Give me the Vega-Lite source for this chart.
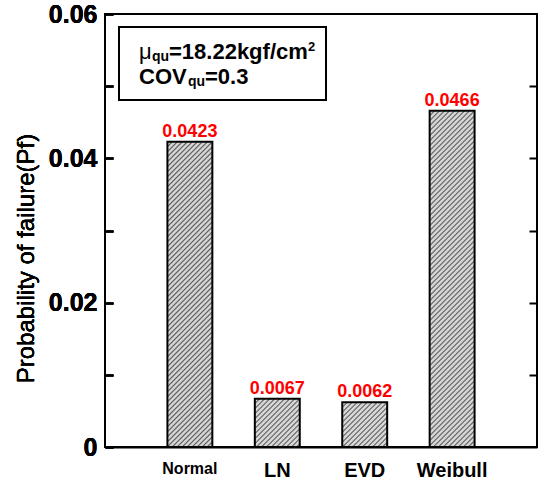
{
 "$schema": "https://vega.github.io/schema/vega-lite/v6.json",
 "width": 432, "height": 433,
 "autosize": "none",
 "padding": {"left": 105, "top": 14, "right": 2, "bottom": 34},
 "background": "white",
 "config": {
  "font": "Liberation Sans",
  "view": {"stroke": "black", "strokeWidth": 2},
  "axis": {"grid": false, "domainColor": "black", "domainWidth": 2, "tickColor": "black", "tickWidth": 2, "labelColor": "black", "titleColor": "black", "labelFont": "Liberation Sans", "titleFont": "Liberation Sans"}
 },
 "data": {"values": [
  {"model": "Normal", "pf": 0.0423, "label": "0.0423"},
  {"model": "LN", "pf": 0.0067, "label": "0.0067"},
  {"model": "EVD", "pf": 0.0062, "label": "0.0062"},
  {"model": "Weibull", "pf": 0.0466, "label": "0.0466"}
 ]},
 "resolve": {"scale": {"x": "independent"}},
 "layer": [
  {
   "encoding": {
    "x": {"field": "model", "type": "nominal", "sort": ["Normal", "LN", "EVD", "Weibull"],
          "scale": {"paddingInner": 0.486, "paddingOuter": 0.714},
          "axis": {"title": null, "labelAngle": 0, "ticks": false, "labelPadding": 13, "labelFontWeight": "bold",
                   "labelFontSize": {"condition": {"test": "datum.value == 'Normal'", "value": 16}, "value": 20}}},
    "y": {"field": "pf", "type": "quantitative", "scale": {"domain": [0, 0.06], "nice": false, "zero": true},
          "axis": {"orient": "left", "title": "Probability of failure(Pf)", "values": [0, 0.01, 0.02, 0.03, 0.04, 0.05, 0.06],
                   "labelExpr": "datum.value == 0 ? '0' : (round(datum.value*100) % 2 == 0 ? format(datum.value, '.2f') : '')",
                   "labelOverlap": false, "labelFontSize": 25, "labelFontWeight": "bold", "offset": -8, "tickSize": 8, "domain": false, "labelPadding": 8,
                   "titleFontSize": 24, "titleFontWeight": "normal", "titlePadding": 10, "titleY": 244}}
   },
   "layer": [
    {"transform": [{"filter": "datum.model == 'Normal'"}],
     "mark": {"type": "bar", "stroke": "black", "strokeWidth": 2,
      "fill": {"gradient": "linear", "x1": 0, "y1": 0, "x2": 0.18878, "y2": 1.28258, "stops": [
{"offset":0,"color":"#555"},{"offset":0.00375,"color":"#d6d6d6"},{"offset":0.00875,"color":"#d6d6d6"},
{"offset":0.0125,"color":"#555"},{"offset":0.01625,"color":"#d6d6d6"},{"offset":0.02125,"color":"#d6d6d6"},
{"offset":0.025,"color":"#555"},{"offset":0.02875,"color":"#d6d6d6"},{"offset":0.03375,"color":"#d6d6d6"},
{"offset":0.0375,"color":"#555"},{"offset":0.04125,"color":"#d6d6d6"},{"offset":0.04625,"color":"#d6d6d6"},
{"offset":0.05,"color":"#555"},{"offset":0.05375,"color":"#d6d6d6"},{"offset":0.05875,"color":"#d6d6d6"},
{"offset":0.0625,"color":"#555"},{"offset":0.06625,"color":"#d6d6d6"},{"offset":0.07125,"color":"#d6d6d6"},
{"offset":0.075,"color":"#555"},{"offset":0.07875,"color":"#d6d6d6"},{"offset":0.08375,"color":"#d6d6d6"},
{"offset":0.0875,"color":"#555"},{"offset":0.09125,"color":"#d6d6d6"},{"offset":0.09625,"color":"#d6d6d6"},
{"offset":0.1,"color":"#555"},{"offset":0.10375,"color":"#d6d6d6"},{"offset":0.10875,"color":"#d6d6d6"},
{"offset":0.1125,"color":"#555"},{"offset":0.11625,"color":"#d6d6d6"},{"offset":0.12125,"color":"#d6d6d6"},
{"offset":0.125,"color":"#555"},{"offset":0.12875,"color":"#d6d6d6"},{"offset":0.13375,"color":"#d6d6d6"},
{"offset":0.1375,"color":"#555"},{"offset":0.14125,"color":"#d6d6d6"},{"offset":0.14625,"color":"#d6d6d6"},
{"offset":0.15,"color":"#555"},{"offset":0.15375,"color":"#d6d6d6"},{"offset":0.15875,"color":"#d6d6d6"},
{"offset":0.1625,"color":"#555"},{"offset":0.16625,"color":"#d6d6d6"},{"offset":0.17125,"color":"#d6d6d6"},
{"offset":0.175,"color":"#555"},{"offset":0.17875,"color":"#d6d6d6"},{"offset":0.18375,"color":"#d6d6d6"},
{"offset":0.1875,"color":"#555"},{"offset":0.19125,"color":"#d6d6d6"},{"offset":0.19625,"color":"#d6d6d6"},
{"offset":0.2,"color":"#555"},{"offset":0.20375,"color":"#d6d6d6"},{"offset":0.20875,"color":"#d6d6d6"},
{"offset":0.2125,"color":"#555"},{"offset":0.21625,"color":"#d6d6d6"},{"offset":0.22125,"color":"#d6d6d6"},
{"offset":0.225,"color":"#555"},{"offset":0.22875,"color":"#d6d6d6"},{"offset":0.23375,"color":"#d6d6d6"},
{"offset":0.2375,"color":"#555"},{"offset":0.24125,"color":"#d6d6d6"},{"offset":0.24625,"color":"#d6d6d6"},
{"offset":0.25,"color":"#555"},{"offset":0.25375,"color":"#d6d6d6"},{"offset":0.25875,"color":"#d6d6d6"},
{"offset":0.2625,"color":"#555"},{"offset":0.26625,"color":"#d6d6d6"},{"offset":0.27125,"color":"#d6d6d6"},
{"offset":0.275,"color":"#555"},{"offset":0.27875,"color":"#d6d6d6"},{"offset":0.28375,"color":"#d6d6d6"},
{"offset":0.2875,"color":"#555"},{"offset":0.29125,"color":"#d6d6d6"},{"offset":0.29625,"color":"#d6d6d6"},
{"offset":0.3,"color":"#555"},{"offset":0.30375,"color":"#d6d6d6"},{"offset":0.30875,"color":"#d6d6d6"},
{"offset":0.3125,"color":"#555"},{"offset":0.31625,"color":"#d6d6d6"},{"offset":0.32125,"color":"#d6d6d6"},
{"offset":0.325,"color":"#555"},{"offset":0.32875,"color":"#d6d6d6"},{"offset":0.33375,"color":"#d6d6d6"},
{"offset":0.3375,"color":"#555"},{"offset":0.34125,"color":"#d6d6d6"},{"offset":0.34625,"color":"#d6d6d6"},
{"offset":0.35,"color":"#555"},{"offset":0.35375,"color":"#d6d6d6"},{"offset":0.35875,"color":"#d6d6d6"},
{"offset":0.3625,"color":"#555"},{"offset":0.36625,"color":"#d6d6d6"},{"offset":0.37125,"color":"#d6d6d6"},
{"offset":0.375,"color":"#555"},{"offset":0.37875,"color":"#d6d6d6"},{"offset":0.38375,"color":"#d6d6d6"},
{"offset":0.3875,"color":"#555"},{"offset":0.39125,"color":"#d6d6d6"},{"offset":0.39625,"color":"#d6d6d6"},
{"offset":0.4,"color":"#555"},{"offset":0.40375,"color":"#d6d6d6"},{"offset":0.40875,"color":"#d6d6d6"},
{"offset":0.4125,"color":"#555"},{"offset":0.41625,"color":"#d6d6d6"},{"offset":0.42125,"color":"#d6d6d6"},
{"offset":0.425,"color":"#555"},{"offset":0.42875,"color":"#d6d6d6"},{"offset":0.43375,"color":"#d6d6d6"},
{"offset":0.4375,"color":"#555"},{"offset":0.44125,"color":"#d6d6d6"},{"offset":0.44625,"color":"#d6d6d6"},
{"offset":0.45,"color":"#555"},{"offset":0.45375,"color":"#d6d6d6"},{"offset":0.45875,"color":"#d6d6d6"},
{"offset":0.4625,"color":"#555"},{"offset":0.46625,"color":"#d6d6d6"},{"offset":0.47125,"color":"#d6d6d6"},
{"offset":0.475,"color":"#555"},{"offset":0.47875,"color":"#d6d6d6"},{"offset":0.48375,"color":"#d6d6d6"},
{"offset":0.4875,"color":"#555"},{"offset":0.49125,"color":"#d6d6d6"},{"offset":0.49625,"color":"#d6d6d6"},
{"offset":0.5,"color":"#555"},{"offset":0.50375,"color":"#d6d6d6"},{"offset":0.50875,"color":"#d6d6d6"},
{"offset":0.5125,"color":"#555"},{"offset":0.51625,"color":"#d6d6d6"},{"offset":0.52125,"color":"#d6d6d6"},
{"offset":0.525,"color":"#555"},{"offset":0.52875,"color":"#d6d6d6"},{"offset":0.53375,"color":"#d6d6d6"},
{"offset":0.5375,"color":"#555"},{"offset":0.54125,"color":"#d6d6d6"},{"offset":0.54625,"color":"#d6d6d6"},
{"offset":0.55,"color":"#555"},{"offset":0.55375,"color":"#d6d6d6"},{"offset":0.55875,"color":"#d6d6d6"},
{"offset":0.5625,"color":"#555"},{"offset":0.56625,"color":"#d6d6d6"},{"offset":0.57125,"color":"#d6d6d6"},
{"offset":0.575,"color":"#555"},{"offset":0.57875,"color":"#d6d6d6"},{"offset":0.58375,"color":"#d6d6d6"},
{"offset":0.5875,"color":"#555"},{"offset":0.59125,"color":"#d6d6d6"},{"offset":0.59625,"color":"#d6d6d6"},
{"offset":0.6,"color":"#555"},{"offset":0.60375,"color":"#d6d6d6"},{"offset":0.60875,"color":"#d6d6d6"},
{"offset":0.6125,"color":"#555"},{"offset":0.61625,"color":"#d6d6d6"},{"offset":0.62125,"color":"#d6d6d6"},
{"offset":0.625,"color":"#555"},{"offset":0.62875,"color":"#d6d6d6"},{"offset":0.63375,"color":"#d6d6d6"},
{"offset":0.6375,"color":"#555"},{"offset":0.64125,"color":"#d6d6d6"},{"offset":0.64625,"color":"#d6d6d6"},
{"offset":0.65,"color":"#555"},{"offset":0.65375,"color":"#d6d6d6"},{"offset":0.65875,"color":"#d6d6d6"},
{"offset":0.6625,"color":"#555"},{"offset":0.66625,"color":"#d6d6d6"},{"offset":0.67125,"color":"#d6d6d6"},
{"offset":0.675,"color":"#555"},{"offset":0.67875,"color":"#d6d6d6"},{"offset":0.68375,"color":"#d6d6d6"},
{"offset":0.6875,"color":"#555"},{"offset":0.69125,"color":"#d6d6d6"},{"offset":0.69625,"color":"#d6d6d6"},
{"offset":0.7,"color":"#555"},{"offset":0.70375,"color":"#d6d6d6"},{"offset":0.70875,"color":"#d6d6d6"},
{"offset":0.7125,"color":"#555"},{"offset":0.71625,"color":"#d6d6d6"},{"offset":0.72125,"color":"#d6d6d6"},
{"offset":0.725,"color":"#555"},{"offset":0.72875,"color":"#d6d6d6"},{"offset":0.73375,"color":"#d6d6d6"},
{"offset":0.7375,"color":"#555"},{"offset":0.74125,"color":"#d6d6d6"},{"offset":0.74625,"color":"#d6d6d6"},
{"offset":0.75,"color":"#555"},{"offset":0.75375,"color":"#d6d6d6"},{"offset":0.75875,"color":"#d6d6d6"},
{"offset":0.7625,"color":"#555"},{"offset":0.76625,"color":"#d6d6d6"},{"offset":0.77125,"color":"#d6d6d6"},
{"offset":0.775,"color":"#555"},{"offset":0.77875,"color":"#d6d6d6"},{"offset":0.78375,"color":"#d6d6d6"},
{"offset":0.7875,"color":"#555"},{"offset":0.79125,"color":"#d6d6d6"},{"offset":0.79625,"color":"#d6d6d6"},
{"offset":0.8,"color":"#555"},{"offset":0.80375,"color":"#d6d6d6"},{"offset":0.80875,"color":"#d6d6d6"},
{"offset":0.8125,"color":"#555"},{"offset":0.81625,"color":"#d6d6d6"},{"offset":0.82125,"color":"#d6d6d6"},
{"offset":0.825,"color":"#555"},{"offset":0.82875,"color":"#d6d6d6"},{"offset":0.83375,"color":"#d6d6d6"},
{"offset":0.8375,"color":"#555"},{"offset":0.84125,"color":"#d6d6d6"},{"offset":0.84625,"color":"#d6d6d6"},
{"offset":0.85,"color":"#555"},{"offset":0.85375,"color":"#d6d6d6"},{"offset":0.85875,"color":"#d6d6d6"},
{"offset":0.8625,"color":"#555"},{"offset":0.86625,"color":"#d6d6d6"},{"offset":0.87125,"color":"#d6d6d6"},
{"offset":0.875,"color":"#555"},{"offset":0.87875,"color":"#d6d6d6"},{"offset":0.88375,"color":"#d6d6d6"},
{"offset":0.8875,"color":"#555"},{"offset":0.89125,"color":"#d6d6d6"},{"offset":0.89625,"color":"#d6d6d6"},
{"offset":0.9,"color":"#555"}]}}},
    {"transform": [{"filter": "datum.model == 'Weibull'"}],
     "mark": {"type": "bar", "stroke": "black", "strokeWidth": 2,
      "fill": {"gradient": "linear", "x1": 0, "y1": 0, "x2": 0.15612, "y2": 1.16855, "stops": [
{"offset":0,"color":"#555"},{"offset":0.00375,"color":"#d6d6d6"},{"offset":0.00875,"color":"#d6d6d6"},
{"offset":0.0125,"color":"#555"},{"offset":0.01625,"color":"#d6d6d6"},{"offset":0.02125,"color":"#d6d6d6"},
{"offset":0.025,"color":"#555"},{"offset":0.02875,"color":"#d6d6d6"},{"offset":0.03375,"color":"#d6d6d6"},
{"offset":0.0375,"color":"#555"},{"offset":0.04125,"color":"#d6d6d6"},{"offset":0.04625,"color":"#d6d6d6"},
{"offset":0.05,"color":"#555"},{"offset":0.05375,"color":"#d6d6d6"},{"offset":0.05875,"color":"#d6d6d6"},
{"offset":0.0625,"color":"#555"},{"offset":0.06625,"color":"#d6d6d6"},{"offset":0.07125,"color":"#d6d6d6"},
{"offset":0.075,"color":"#555"},{"offset":0.07875,"color":"#d6d6d6"},{"offset":0.08375,"color":"#d6d6d6"},
{"offset":0.0875,"color":"#555"},{"offset":0.09125,"color":"#d6d6d6"},{"offset":0.09625,"color":"#d6d6d6"},
{"offset":0.1,"color":"#555"},{"offset":0.10375,"color":"#d6d6d6"},{"offset":0.10875,"color":"#d6d6d6"},
{"offset":0.1125,"color":"#555"},{"offset":0.11625,"color":"#d6d6d6"},{"offset":0.12125,"color":"#d6d6d6"},
{"offset":0.125,"color":"#555"},{"offset":0.12875,"color":"#d6d6d6"},{"offset":0.13375,"color":"#d6d6d6"},
{"offset":0.1375,"color":"#555"},{"offset":0.14125,"color":"#d6d6d6"},{"offset":0.14625,"color":"#d6d6d6"},
{"offset":0.15,"color":"#555"},{"offset":0.15375,"color":"#d6d6d6"},{"offset":0.15875,"color":"#d6d6d6"},
{"offset":0.1625,"color":"#555"},{"offset":0.16625,"color":"#d6d6d6"},{"offset":0.17125,"color":"#d6d6d6"},
{"offset":0.175,"color":"#555"},{"offset":0.17875,"color":"#d6d6d6"},{"offset":0.18375,"color":"#d6d6d6"},
{"offset":0.1875,"color":"#555"},{"offset":0.19125,"color":"#d6d6d6"},{"offset":0.19625,"color":"#d6d6d6"},
{"offset":0.2,"color":"#555"},{"offset":0.20375,"color":"#d6d6d6"},{"offset":0.20875,"color":"#d6d6d6"},
{"offset":0.2125,"color":"#555"},{"offset":0.21625,"color":"#d6d6d6"},{"offset":0.22125,"color":"#d6d6d6"},
{"offset":0.225,"color":"#555"},{"offset":0.22875,"color":"#d6d6d6"},{"offset":0.23375,"color":"#d6d6d6"},
{"offset":0.2375,"color":"#555"},{"offset":0.24125,"color":"#d6d6d6"},{"offset":0.24625,"color":"#d6d6d6"},
{"offset":0.25,"color":"#555"},{"offset":0.25375,"color":"#d6d6d6"},{"offset":0.25875,"color":"#d6d6d6"},
{"offset":0.2625,"color":"#555"},{"offset":0.26625,"color":"#d6d6d6"},{"offset":0.27125,"color":"#d6d6d6"},
{"offset":0.275,"color":"#555"},{"offset":0.27875,"color":"#d6d6d6"},{"offset":0.28375,"color":"#d6d6d6"},
{"offset":0.2875,"color":"#555"},{"offset":0.29125,"color":"#d6d6d6"},{"offset":0.29625,"color":"#d6d6d6"},
{"offset":0.3,"color":"#555"},{"offset":0.30375,"color":"#d6d6d6"},{"offset":0.30875,"color":"#d6d6d6"},
{"offset":0.3125,"color":"#555"},{"offset":0.31625,"color":"#d6d6d6"},{"offset":0.32125,"color":"#d6d6d6"},
{"offset":0.325,"color":"#555"},{"offset":0.32875,"color":"#d6d6d6"},{"offset":0.33375,"color":"#d6d6d6"},
{"offset":0.3375,"color":"#555"},{"offset":0.34125,"color":"#d6d6d6"},{"offset":0.34625,"color":"#d6d6d6"},
{"offset":0.35,"color":"#555"},{"offset":0.35375,"color":"#d6d6d6"},{"offset":0.35875,"color":"#d6d6d6"},
{"offset":0.3625,"color":"#555"},{"offset":0.36625,"color":"#d6d6d6"},{"offset":0.37125,"color":"#d6d6d6"},
{"offset":0.375,"color":"#555"},{"offset":0.37875,"color":"#d6d6d6"},{"offset":0.38375,"color":"#d6d6d6"},
{"offset":0.3875,"color":"#555"},{"offset":0.39125,"color":"#d6d6d6"},{"offset":0.39625,"color":"#d6d6d6"},
{"offset":0.4,"color":"#555"},{"offset":0.40375,"color":"#d6d6d6"},{"offset":0.40875,"color":"#d6d6d6"},
{"offset":0.4125,"color":"#555"},{"offset":0.41625,"color":"#d6d6d6"},{"offset":0.42125,"color":"#d6d6d6"},
{"offset":0.425,"color":"#555"},{"offset":0.42875,"color":"#d6d6d6"},{"offset":0.43375,"color":"#d6d6d6"},
{"offset":0.4375,"color":"#555"},{"offset":0.44125,"color":"#d6d6d6"},{"offset":0.44625,"color":"#d6d6d6"},
{"offset":0.45,"color":"#555"},{"offset":0.45375,"color":"#d6d6d6"},{"offset":0.45875,"color":"#d6d6d6"},
{"offset":0.4625,"color":"#555"},{"offset":0.46625,"color":"#d6d6d6"},{"offset":0.47125,"color":"#d6d6d6"},
{"offset":0.475,"color":"#555"},{"offset":0.47875,"color":"#d6d6d6"},{"offset":0.48375,"color":"#d6d6d6"},
{"offset":0.4875,"color":"#555"},{"offset":0.49125,"color":"#d6d6d6"},{"offset":0.49625,"color":"#d6d6d6"},
{"offset":0.5,"color":"#555"},{"offset":0.50375,"color":"#d6d6d6"},{"offset":0.50875,"color":"#d6d6d6"},
{"offset":0.5125,"color":"#555"},{"offset":0.51625,"color":"#d6d6d6"},{"offset":0.52125,"color":"#d6d6d6"},
{"offset":0.525,"color":"#555"},{"offset":0.52875,"color":"#d6d6d6"},{"offset":0.53375,"color":"#d6d6d6"},
{"offset":0.5375,"color":"#555"},{"offset":0.54125,"color":"#d6d6d6"},{"offset":0.54625,"color":"#d6d6d6"},
{"offset":0.55,"color":"#555"},{"offset":0.55375,"color":"#d6d6d6"},{"offset":0.55875,"color":"#d6d6d6"},
{"offset":0.5625,"color":"#555"},{"offset":0.56625,"color":"#d6d6d6"},{"offset":0.57125,"color":"#d6d6d6"},
{"offset":0.575,"color":"#555"},{"offset":0.57875,"color":"#d6d6d6"},{"offset":0.58375,"color":"#d6d6d6"},
{"offset":0.5875,"color":"#555"},{"offset":0.59125,"color":"#d6d6d6"},{"offset":0.59625,"color":"#d6d6d6"},
{"offset":0.6,"color":"#555"},{"offset":0.60375,"color":"#d6d6d6"},{"offset":0.60875,"color":"#d6d6d6"},
{"offset":0.6125,"color":"#555"},{"offset":0.61625,"color":"#d6d6d6"},{"offset":0.62125,"color":"#d6d6d6"},
{"offset":0.625,"color":"#555"},{"offset":0.62875,"color":"#d6d6d6"},{"offset":0.63375,"color":"#d6d6d6"},
{"offset":0.6375,"color":"#555"},{"offset":0.64125,"color":"#d6d6d6"},{"offset":0.64625,"color":"#d6d6d6"},
{"offset":0.65,"color":"#555"},{"offset":0.65375,"color":"#d6d6d6"},{"offset":0.65875,"color":"#d6d6d6"},
{"offset":0.6625,"color":"#555"},{"offset":0.66625,"color":"#d6d6d6"},{"offset":0.67125,"color":"#d6d6d6"},
{"offset":0.675,"color":"#555"},{"offset":0.67875,"color":"#d6d6d6"},{"offset":0.68375,"color":"#d6d6d6"},
{"offset":0.6875,"color":"#555"},{"offset":0.69125,"color":"#d6d6d6"},{"offset":0.69625,"color":"#d6d6d6"},
{"offset":0.7,"color":"#555"},{"offset":0.70375,"color":"#d6d6d6"},{"offset":0.70875,"color":"#d6d6d6"},
{"offset":0.7125,"color":"#555"},{"offset":0.71625,"color":"#d6d6d6"},{"offset":0.72125,"color":"#d6d6d6"},
{"offset":0.725,"color":"#555"},{"offset":0.72875,"color":"#d6d6d6"},{"offset":0.73375,"color":"#d6d6d6"},
{"offset":0.7375,"color":"#555"},{"offset":0.74125,"color":"#d6d6d6"},{"offset":0.74625,"color":"#d6d6d6"},
{"offset":0.75,"color":"#555"},{"offset":0.75375,"color":"#d6d6d6"},{"offset":0.75875,"color":"#d6d6d6"},
{"offset":0.7625,"color":"#555"},{"offset":0.76625,"color":"#d6d6d6"},{"offset":0.77125,"color":"#d6d6d6"},
{"offset":0.775,"color":"#555"},{"offset":0.77875,"color":"#d6d6d6"},{"offset":0.78375,"color":"#d6d6d6"},
{"offset":0.7875,"color":"#555"},{"offset":0.79125,"color":"#d6d6d6"},{"offset":0.79625,"color":"#d6d6d6"},
{"offset":0.8,"color":"#555"},{"offset":0.80375,"color":"#d6d6d6"},{"offset":0.80875,"color":"#d6d6d6"},
{"offset":0.8125,"color":"#555"},{"offset":0.81625,"color":"#d6d6d6"},{"offset":0.82125,"color":"#d6d6d6"},
{"offset":0.825,"color":"#555"},{"offset":0.82875,"color":"#d6d6d6"},{"offset":0.83375,"color":"#d6d6d6"},
{"offset":0.8375,"color":"#555"},{"offset":0.84125,"color":"#d6d6d6"},{"offset":0.84625,"color":"#d6d6d6"},
{"offset":0.85,"color":"#555"},{"offset":0.85375,"color":"#d6d6d6"},{"offset":0.85875,"color":"#d6d6d6"},
{"offset":0.8625,"color":"#555"},{"offset":0.86625,"color":"#d6d6d6"},{"offset":0.87125,"color":"#d6d6d6"},
{"offset":0.875,"color":"#555"},{"offset":0.87875,"color":"#d6d6d6"},{"offset":0.88375,"color":"#d6d6d6"},
{"offset":0.8875,"color":"#555"},{"offset":0.89125,"color":"#d6d6d6"},{"offset":0.89625,"color":"#d6d6d6"},
{"offset":0.9,"color":"#555"},{"offset":0.90375,"color":"#d6d6d6"},{"offset":0.90875,"color":"#d6d6d6"},
{"offset":0.9125,"color":"#555"},{"offset":0.91625,"color":"#d6d6d6"},{"offset":0.92125,"color":"#d6d6d6"},
{"offset":0.925,"color":"#555"},{"offset":0.92875,"color":"#d6d6d6"},{"offset":0.93375,"color":"#d6d6d6"},
{"offset":0.9375,"color":"#555"},{"offset":0.94125,"color":"#d6d6d6"},{"offset":0.94625,"color":"#d6d6d6"},
{"offset":0.95,"color":"#555"},{"offset":0.95375,"color":"#d6d6d6"},{"offset":0.95875,"color":"#d6d6d6"},
{"offset":0.9625,"color":"#555"},{"offset":0.96625,"color":"#d6d6d6"},{"offset":0.97125,"color":"#d6d6d6"},
{"offset":0.975,"color":"#555"}]}}},
    {"transform": [{"filter": "datum.model == 'LN'"}],
     "mark": {"type": "bar", "stroke": "black", "strokeWidth": 2,
      "fill": {"gradient": "linear", "x1": 0, "y1": 0, "x2": 1.03132, "y2": 1.10982, "stops": [
{"offset":0,"color":"#555"},{"offset":0.015,"color":"#d6d6d6"},{"offset":0.035,"color":"#d6d6d6"},
{"offset":0.05,"color":"#555"},{"offset":0.065,"color":"#d6d6d6"},{"offset":0.085,"color":"#d6d6d6"},
{"offset":0.1,"color":"#555"},{"offset":0.115,"color":"#d6d6d6"},{"offset":0.135,"color":"#d6d6d6"},
{"offset":0.15,"color":"#555"},{"offset":0.165,"color":"#d6d6d6"},{"offset":0.185,"color":"#d6d6d6"},
{"offset":0.2,"color":"#555"},{"offset":0.215,"color":"#d6d6d6"},{"offset":0.235,"color":"#d6d6d6"},
{"offset":0.25,"color":"#555"},{"offset":0.265,"color":"#d6d6d6"},{"offset":0.285,"color":"#d6d6d6"},
{"offset":0.3,"color":"#555"},{"offset":0.315,"color":"#d6d6d6"},{"offset":0.335,"color":"#d6d6d6"},
{"offset":0.35,"color":"#555"},{"offset":0.365,"color":"#d6d6d6"},{"offset":0.385,"color":"#d6d6d6"},
{"offset":0.4,"color":"#555"},{"offset":0.415,"color":"#d6d6d6"},{"offset":0.435,"color":"#d6d6d6"},
{"offset":0.45,"color":"#555"},{"offset":0.465,"color":"#d6d6d6"},{"offset":0.485,"color":"#d6d6d6"},
{"offset":0.5,"color":"#555"},{"offset":0.515,"color":"#d6d6d6"},{"offset":0.535,"color":"#d6d6d6"},
{"offset":0.55,"color":"#555"},{"offset":0.565,"color":"#d6d6d6"},{"offset":0.585,"color":"#d6d6d6"},
{"offset":0.6,"color":"#555"},{"offset":0.615,"color":"#d6d6d6"},{"offset":0.635,"color":"#d6d6d6"},
{"offset":0.65,"color":"#555"},{"offset":0.665,"color":"#d6d6d6"},{"offset":0.685,"color":"#d6d6d6"},
{"offset":0.7,"color":"#555"},{"offset":0.715,"color":"#d6d6d6"},{"offset":0.735,"color":"#d6d6d6"},
{"offset":0.75,"color":"#555"},{"offset":0.765,"color":"#d6d6d6"},{"offset":0.785,"color":"#d6d6d6"},
{"offset":0.8,"color":"#555"},{"offset":0.815,"color":"#d6d6d6"},{"offset":0.835,"color":"#d6d6d6"},
{"offset":0.85,"color":"#555"},{"offset":0.865,"color":"#d6d6d6"},{"offset":0.885,"color":"#d6d6d6"},
{"offset":0.9,"color":"#555"},{"offset":0.915,"color":"#d6d6d6"},{"offset":0.935,"color":"#d6d6d6"},
{"offset":0.95,"color":"#555"}]}}},
    {"transform": [{"filter": "datum.model == 'EVD'"}],
     "mark": {"type": "bar", "stroke": "black", "strokeWidth": 2,
      "fill": {"gradient": "linear", "x1": 0, "y1": 0, "x2": 1.11753, "y2": 1.11281, "stops": [
{"offset":0,"color":"#555"},{"offset":0.015,"color":"#d6d6d6"},{"offset":0.035,"color":"#d6d6d6"},
{"offset":0.05,"color":"#555"},{"offset":0.065,"color":"#d6d6d6"},{"offset":0.085,"color":"#d6d6d6"},
{"offset":0.1,"color":"#555"},{"offset":0.115,"color":"#d6d6d6"},{"offset":0.135,"color":"#d6d6d6"},
{"offset":0.15,"color":"#555"},{"offset":0.165,"color":"#d6d6d6"},{"offset":0.185,"color":"#d6d6d6"},
{"offset":0.2,"color":"#555"},{"offset":0.215,"color":"#d6d6d6"},{"offset":0.235,"color":"#d6d6d6"},
{"offset":0.25,"color":"#555"},{"offset":0.265,"color":"#d6d6d6"},{"offset":0.285,"color":"#d6d6d6"},
{"offset":0.3,"color":"#555"},{"offset":0.315,"color":"#d6d6d6"},{"offset":0.335,"color":"#d6d6d6"},
{"offset":0.35,"color":"#555"},{"offset":0.365,"color":"#d6d6d6"},{"offset":0.385,"color":"#d6d6d6"},
{"offset":0.4,"color":"#555"},{"offset":0.415,"color":"#d6d6d6"},{"offset":0.435,"color":"#d6d6d6"},
{"offset":0.45,"color":"#555"},{"offset":0.465,"color":"#d6d6d6"},{"offset":0.485,"color":"#d6d6d6"},
{"offset":0.5,"color":"#555"},{"offset":0.515,"color":"#d6d6d6"},{"offset":0.535,"color":"#d6d6d6"},
{"offset":0.55,"color":"#555"},{"offset":0.565,"color":"#d6d6d6"},{"offset":0.585,"color":"#d6d6d6"},
{"offset":0.6,"color":"#555"},{"offset":0.615,"color":"#d6d6d6"},{"offset":0.635,"color":"#d6d6d6"},
{"offset":0.65,"color":"#555"},{"offset":0.665,"color":"#d6d6d6"},{"offset":0.685,"color":"#d6d6d6"},
{"offset":0.7,"color":"#555"},{"offset":0.715,"color":"#d6d6d6"},{"offset":0.735,"color":"#d6d6d6"},
{"offset":0.75,"color":"#555"},{"offset":0.765,"color":"#d6d6d6"},{"offset":0.785,"color":"#d6d6d6"},
{"offset":0.8,"color":"#555"},{"offset":0.815,"color":"#d6d6d6"},{"offset":0.835,"color":"#d6d6d6"},
{"offset":0.85,"color":"#555"},{"offset":0.865,"color":"#d6d6d6"},{"offset":0.885,"color":"#d6d6d6"},
{"offset":0.9,"color":"#555"},{"offset":0.915,"color":"#d6d6d6"},{"offset":0.935,"color":"#d6d6d6"},
{"offset":0.95,"color":"#555"}]}}},
    {"mark": {"type": "text", "color": "#ff0000", "fontWeight": "bold", "fontSize": 18, "baseline": "alphabetic", "dy": -5, "font": "Liberation Sans"},
     "encoding": {
      "text": {"field": "label"},
      "y": {"field": "pf", "type": "quantitative",
            "axis": {"orient": "right", "labels": false, "title": null, "values": [0.01, 0.02, 0.03, 0.04, 0.05], "offset": -8, "tickSize": 8, "domain": false}}
     }}
   ]
  },
  {
   "data": {"values": [{}]},
   "layer": [
    {"mark": {"type": "rect", "fill": "white", "stroke": "black", "strokeWidth": 2},
     "encoding": {
      "x": {"datum": 0.0324, "type": "quantitative", "scale": {"domain": [0, 1], "nice": false, "zero": false}, "axis": null},
      "x2": {"datum": 0.5116},
      "y": {"datum": 0.058199, "type": "quantitative", "axis": null},
      "y2": {"datum": 0.048083}
     }},
    {"mark": {"type": "text", "text": "μ", "fontSize": 22, "align": "left", "baseline": "alphabetic", "font": "Liberation Sans"},
     "encoding": {"x": {"datum": 0.0787, "type": "quantitative"}, "y": {"datum": 0.05376, "type": "quantitative"}}},
    {"mark": {"type": "text", "text": "qu", "fontSize": 14, "fontWeight": "bold", "align": "left", "baseline": "alphabetic", "font": "Liberation Sans"},
     "encoding": {"x": {"datum": 0.1088, "type": "quantitative"}, "y": {"datum": 0.05349, "type": "quantitative"}}},
    {"mark": {"type": "text", "text": "=18.22kgf/cm", "fontSize": 22, "fontWeight": "bold", "align": "left", "baseline": "alphabetic", "font": "Liberation Sans"},
     "encoding": {"x": {"datum": 0.1481, "type": "quantitative"}, "y": {"datum": 0.05376, "type": "quantitative"}}},
    {"mark": {"type": "text", "text": "2", "fontSize": 13, "fontWeight": "bold", "align": "left", "baseline": "alphabetic", "font": "Liberation Sans"},
     "encoding": {"x": {"datum": 0.4699, "type": "quantitative"}, "y": {"datum": 0.05487, "type": "quantitative"}}},
    {"mark": {"type": "text", "text": "COV", "fontSize": 22, "fontWeight": "bold", "align": "left", "baseline": "alphabetic", "font": "Liberation Sans"},
     "encoding": {"x": {"datum": 0.0787, "type": "quantitative"}, "y": {"datum": 0.0503, "type": "quantitative"}}},
    {"mark": {"type": "text", "text": "qu", "fontSize": 14, "fontWeight": "bold", "align": "left", "baseline": "alphabetic", "font": "Liberation Sans"},
     "encoding": {"x": {"datum": 0.1921, "type": "quantitative"}, "y": {"datum": 0.05002, "type": "quantitative"}}},
    {"mark": {"type": "text", "text": "=0.3", "fontSize": 22, "fontWeight": "bold", "align": "left", "baseline": "alphabetic", "font": "Liberation Sans"},
     "encoding": {"x": {"datum": 0.2315, "type": "quantitative"}, "y": {"datum": 0.0503, "type": "quantitative"}}}
   ]
  }
 ]
}
